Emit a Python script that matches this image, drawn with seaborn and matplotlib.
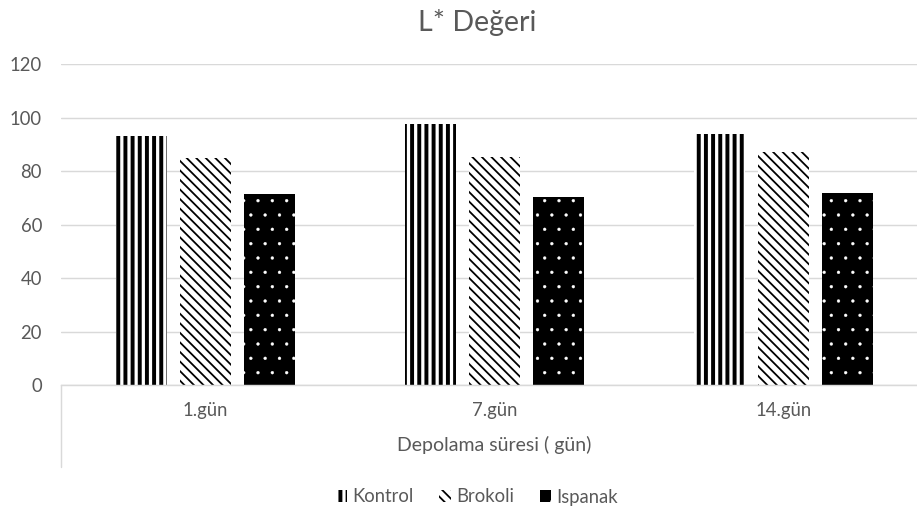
import matplotlib
matplotlib.use("Agg")
import matplotlib.pyplot as plt
from matplotlib.lines import Line2D
from matplotlib.patches import Patch
import seaborn as sns
import pandas as pd

# ---- data ----
categories = ["1.gün", "7.gün", "14.gün"]
series_names = ["Kontrol", "Brokoli", "Ispanak"]
kontrol = [93.2, 97.5, 94.0]
brokoli = [85.0, 85.5, 87.0]
ispanak = [71.3, 70.2, 71.8]
yticks = [0, 20, 40, 60, 80, 100, 120]
title = "L* Değeri"
xlabel = "Depolama süresi ( gün)"

df = pd.DataFrame({
    "gun": categories * 3,
    "seri": [s for s in series_names for _ in categories],
    "deger": kontrol + brokoli + ispanak,
})

sns.set_theme(style="white")
FONT = ["Lato", "DejaVu Sans"]
plt.rcParams["font.family"] = FONT
TXT = "#595959"
GRID = "#d9d9d9"

W, H, DPI = 917, 515, 86
fig = plt.figure(figsize=(W / DPI, H / DPI), dpi=DPI)
ax = fig.add_axes([61 / W, (H - 385) / H, 867 / W, 320.7 / H])

faces = {"Kontrol": "white", "Brokoli": "white", "Ispanak": "black"}
sns.barplot(data=df, x="gun", y="deger", hue="seri", order=categories,
            hue_order=series_names, palette=faces,
            width=0.664, gap=0.2, ax=ax, legend=False, saturation=1,
            errorbar=None)

styles = {
    "Kontrol": dict(hatch="||", edge="black", hlw=3.3),
    "Brokoli": dict(hatch="\\\\\\", edge="black", hlw=1.5),
    "Ispanak": dict(hatch=".", edge="white", hlw=0.3),
}


def set_hlw(p, lw):
    if hasattr(p, "set_hatch_linewidth"):
        p.set_hatch_linewidth(lw)
    else:
        p._hatch_linewidth = lw


for cont, name in zip(ax.containers, series_names):
    st = styles[name]
    for p in cont:
        p.set_hatch(st["hatch"])
        p.set_edgecolor(st["edge"])
        p.set_linewidth(0)
        set_hlw(p, st["hlw"])

ax.set_ylim(0, 120)
ax.set_xlim(-0.5, 2.5)
ax.set_yticks(yticks)
ax.yaxis.grid(True, color=GRID, linewidth=1.2)
ax.set_axisbelow(True)
for s in ["top", "right", "left"]:
    ax.spines[s].set_visible(False)
ax.spines["bottom"].set_color(GRID)
ax.spines["bottom"].set_linewidth(1.2)
ax.tick_params(axis="y", length=0, pad=16, labelsize=15.5, labelcolor=TXT)
ax.tick_params(axis="x", length=0, pad=14, labelsize=15.5, labelcolor=TXT)
ax.set_ylabel("")
ax.set_xlabel(xlabel, fontsize=16.3, color=TXT, labelpad=14)

# multi-level category axis left border
fig.add_artist(Line2D([61 / W, 61 / W], [(H - 385) / H, (H - 467) / H],
                      transform=fig.transFigure, color=GRID, linewidth=1.2))

fig.text(477 / W, (H - 22) / H, title, ha="center", va="center",
         fontsize=24, color=TXT)

handles = []
for name in series_names:
    st = styles[name]
    h = Patch(facecolor=faces[name], edgecolor=st["edge"], linewidth=0,
              hatch=st["hatch"], label=name)
    set_hlw(h, st["hlw"])
    handles.append(h)

leg = fig.legend(handles=handles, loc="center", bbox_to_anchor=(477 / W, (H - 497) / H),
                 ncol=3, frameon=False, fontsize=15.5, labelcolor=TXT,
                 handlelength=0.6, handleheight=0.6, handletextpad=0.3,
                 columnspacing=1.4)
for h, name in zip(leg.legend_handles, series_names):
    st = styles[name]
    h.set_hatch(st["hatch"])
    h.set_edgecolor(st["edge"])
    h.set_linewidth(0)
    set_hlw(h, st["hlw"])

fig.savefig("out.png", dpi=DPI)
